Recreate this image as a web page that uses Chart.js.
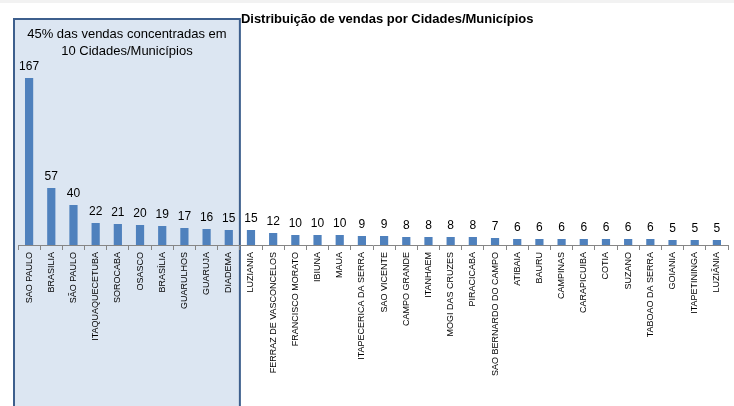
<!DOCTYPE html>
<html>
<head>
<meta charset="utf-8">
<script src="https://cdn.jsdelivr.net/npm/chart.js@4.4.1/dist/chart.umd.min.js"></script>
<style>
    html, body { margin: 0; padding: 0; background: #fff; }
    #wrap { width: 734px; height: 406px; position: relative; }
</style>
</head>
<body>
<div id="wrap"><canvas id="chart"></canvas></div>
<script>
// 数据：城市 / 销量
const cidades = [
    'SAO PAULO', 'BRASILIA', 'SÃO PAULO', 'ITAQUAQUECETUBA', 'SOROCABA', 'OSASCO', 'BRASÍLIA',
    'GUARULHOS', 'GUARUJA', 'DIADEMA', 'LUZIANIA', 'FERRAZ DE VASCONCELOS', 'FRANCISCO MORATO',
    'IBIUNA', 'MAUA', 'ITAPECERICA DA SERRA', 'SAO VICENTE', 'CAMPO GRANDE', 'ITANHAEM',
    'MOGI DAS CRUZES', 'PIRACICABA', 'SAO BERNARDO DO CAMPO', 'ATIBAIA', 'BAURU', 'CAMPINAS',
    'CARAPICUIBA', 'COTIA', 'SUZANO', 'TABOAO DA SERRA', 'GOIANIA', 'ITAPETININGA', 'LUZIÂNIA'
];
const vendas = [
    167, 57, 40, 22, 21, 20, 19, 17, 16, 15,
    15, 12, 10, 10, 10, 9, 9, 8, 8, 8, 8, 7, 6, 6, 6, 6, 6, 6, 6, 5, 5, 5
];
const tituloGrafico = 'Distribuição de vendas por Cidades/Municípios';
const textoDestaque = ['45% das vendas concentradas em', '10 Cidades/Municípios'];
const qtdDestaque = 10;

// 插件：背景高亮框 + 标题
const boxPlugin = {
    id: 'boxPlugin',
    beforeDraw(chart) {
        const ctx = chart.ctx;
        const x = chart.scales.x;
        const left = x.getPixelForValue(0) - x.width / cidades.length / 2 - 4;
        const right = x.getPixelForValue(qtdDestaque - 1) + x.width / cidades.length / 2;
        ctx.save();
        ctx.fillStyle = '#f2f2f2';
        ctx.fillRect(0, 0, chart.width, 3);
        ctx.fillStyle = '#dce6f2';
        ctx.strokeStyle = '#3d5f8d';
        ctx.lineWidth = 2;
        ctx.fillRect(left, 19, right - left, chart.height);
        ctx.strokeRect(left, 19, right - left, chart.height + 10);
        ctx.fillStyle = '#000';
        ctx.font = '13px "Liberation Sans", Arial, sans-serif';
        ctx.textAlign = 'center';
        ctx.textBaseline = 'middle';
        const cx = (left + right) / 2;
        ctx.fillText(textoDestaque[0], cx, 34);
        ctx.fillText(textoDestaque[1], cx, 51);
        ctx.font = 'bold 13px "Liberation Sans", Arial, sans-serif';
        ctx.textAlign = 'left';
        ctx.fillText(tituloGrafico, right + 1, 19);
        ctx.restore();
    },
    afterDatasetsDraw(chart) {
        // 数值标签
        const ctx = chart.ctx;
        const meta = chart.getDatasetMeta(0);
        ctx.save();
        ctx.fillStyle = '#000';
        ctx.font = '12px "Liberation Sans", Arial, sans-serif';
        ctx.textAlign = 'center';
        ctx.textBaseline = 'bottom';
        meta.data.forEach((bar, i) => {
            ctx.fillText(vendas[i], bar.x, bar.y - 5);
        });
        ctx.restore();
    }
};

new Chart(document.getElementById('chart'), {
    type: 'bar',
    data: {
        labels: cidades,
        datasets: [{
            data: vendas,
            backgroundColor: '#4f81bd',
            categoryPercentage: 1,
            barPercentage: 0.37
        }]
    },
    options: {
        responsive: true,
        maintainAspectRatio: false,
        animation: false,
        layout: { padding: { top: 45, left: 18, right: 6, bottom: 0 } },
        plugins: {
            legend: { display: false },
            tooltip: { enabled: false }
        },
        scales: {
            y: {
                display: false,
                min: 0,
                max: 200
            },
            x: {
                afterFit(scale) { scale.height = 161; },
                border: { color: '#868686', width: 1 },
                grid: {
                    drawOnChartArea: false,
                    color: '#868686',
                    tickLength: 5,
                    offset: true
                },
                ticks: {
                    autoSkip: false,
                    minRotation: 90,
                    maxRotation: 90,
                    padding: 2,
                    color: '#000',
                    font: { family: '"Liberation Sans Narrow", "Liberation Sans", Arial', size: 9 }
                }
            }
        }
    },
    plugins: [boxPlugin]
});
</script>
</body>
</html>
